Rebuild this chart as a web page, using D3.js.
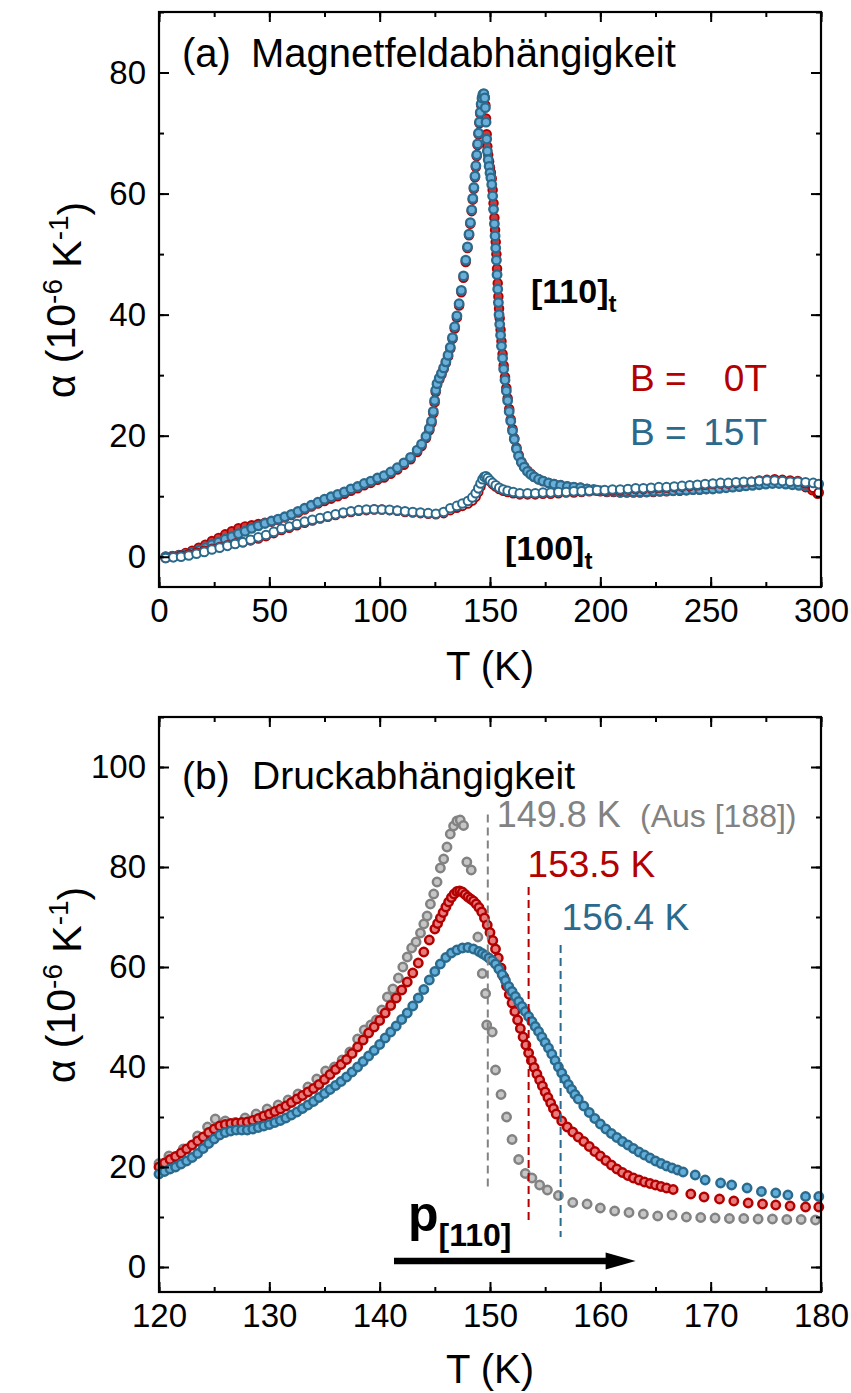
<!DOCTYPE html>
<html>
<head>
<meta charset="utf-8">
<script src="https://cdn.jsdelivr.net/npm/d3@7"></script>
<style>
  body { margin: 0; background: #fff; }
  svg { display: block; }
  text { font-family: "Liberation Sans", Arial, sans-serif; }
</style>
</head>
<body>
<svg id="chart" width="851" height="1393"></svg>
<script>
// ---------- Panel (a): thermal expansion vs. magnetic field, [T (K), alpha (1e-6/K)] ----------
const a110_15T = [[3,0.0],[6,0.1],[9,0.2],[12,0.4],[15,0.7],[18,1.1],[21,1.5],[24,2.0],[27,2.4],[30,2.9],[33,3.3],[36,3.8],[39,4.2],[42,4.7],[45,5.1],[48,5.5],[51,5.9],[54,6.2],[57,6.6],[60,7.0],[63,7.5],[66,8.0],[69,8.5],[72,9.0],[75,9.5],[78,9.9],[81,10.3],[84,10.7],[87,11.2],[90,11.6],[93,12.1],[96,12.5],[99,13.0],[102,13.4],[105,14.0],[108,14.7],[111,15.5],[114,16.4],[117,17.6],[119,18.6],[121,19.9],[122.5,21.2],[123.5,22.4],[124.3,24.0],[124.9,25.8],[125.4,27.5],[126,28.6],[127,29.5],[128,30.3],[129,31.2],[130,32.2],[131,33.3],[132,34.6],[133,36.2],[134,38.0],[135,39.8],[136,41.8],[137,44.0],[138,46.4],[139,49.0],[139.8,51.2],[140.5,53.3],[141.1,55.2],[141.7,57.3],[142.2,59.2],[142.7,61.0],[143.2,62.9],[143.6,64.6],[144,66.4],[144.4,68.2],[144.8,70.0],[145.2,71.8],[145.6,73.4],[146,74.8],[146.4,75.8],[146.8,76.4],[147.2,76.5],[147.6,75.8],[147.9,74.2],[148.2,71.8],[148.5,69.0],[148.8,67.0],[149.2,65.6],[149.6,64.5],[150,63.4],[150.4,62.6],[150.8,61.5],[151.2,59.6],[151.6,57.4],[152,55.0],[152.3,53.0],[152.6,51.0],[152.9,49.0],[153.2,46.6],[153.5,44.2],[153.8,42.0],[154.1,40.0],[154.4,38.4],[154.8,36.6],[155.2,34.8],[155.7,32.8],[156.2,31.0],[156.8,29.2],[157.4,27.4],[158,25.8],[158.7,24.0],[159.4,22.4],[160.2,20.8],[161,19.4],[162,17.8],[163,16.6],[164.2,15.6],[165.5,14.8],[167,14.1],[168.5,13.6],[170,13.2],[172,12.8],[174,12.5],[176.5,12.2],[179,12.0],[182,11.8],[185,11.6],[188,11.5],[191,11.4],[194,11.2],[197,11.1],[200,10.9],[203,10.8],[206,10.8],[209,10.7],[212,10.7],[215,10.7],[218,10.7],[221,10.7],[224,10.8],[227,10.8],[230,10.9],[233,10.9],[236,11.0],[239,11.0],[242,11.1],[245,11.1],[248,11.2],[251,11.2],[254,11.3],[257,11.4],[260,11.5],[263,11.6],[266,11.7],[269,11.8],[272,11.9],[275,12.0],[278,12.1],[281,12.1],[284,12.0],[287,11.9],[290,11.8],[293,11.7],[296,11.6],[298.5,11.5]];

const a110_0T = [[3,0.0],[6,0.1],[9,0.3],[12,0.6],[15,1.0],[18,1.5],[21,2.0],[24,2.6],[27,3.1],[30,3.7],[33,4.2],[36,4.7],[39,5.0],[42,5.2],[45,5.4],[48,5.6],[51,5.8],[54,6.1],[57,6.5],[60,6.9],[63,7.3],[66,7.8],[69,8.3],[72,8.8],[75,9.2],[78,9.6],[81,10.0],[84,10.4],[87,10.9],[90,11.3],[93,11.8],[96,12.2],[99,12.7],[102,13.1],[105,13.7],[108,14.4],[111,15.2],[114,16.1],[117,17.3],[119,18.3],[121,19.6],[122.5,20.9],[123.5,22.1],[124.3,23.7],[124.9,25.5],[125.4,27.2],[126,28.4],[127,29.3],[128,30.1],[129,31.0],[130,32.0],[131,33.1],[132,34.4],[133,36.0],[134,37.7],[135,39.5],[136,41.5],[137,43.7],[138,46.1],[139,48.7],[139.8,51.0],[140.5,53.1],[141.1,55.0],[141.7,57.1],[142.2,59.0],[142.7,60.8],[143.2,62.7],[143.6,64.4],[144,66.2],[144.4,68.0],[144.8,69.8],[145.2,71.6],[145.6,73.2],[146,74.6],[146.4,75.6],[146.8,76.2],[147.2,76.4],[147.6,75.9],[147.9,74.6],[148.2,72.4],[148.5,69.8],[148.8,67.8],[149.2,66.4],[149.6,65.3],[150,64.3],[150.4,63.5],[150.8,62.5],[151.2,60.6],[151.6,58.4],[152,56.0],[152.3,54.0],[152.6,52.0],[152.9,50.0],[153.2,47.6],[153.5,45.2],[153.8,43.0],[154.1,41.0],[154.4,39.4],[154.8,37.5],[155.2,35.6],[155.7,33.5],[156.2,31.6],[156.8,29.7],[157.4,27.9],[158,26.2],[158.7,24.4],[159.4,22.7],[160.2,21.1],[161,19.6],[162,18.0],[163,16.8],[164.2,15.7],[165.5,14.9],[167,14.2],[168.5,13.7],[170,13.2],[172,12.8],[174,12.5],[176.5,12.2],[179,12.0],[182,11.8],[185,11.6],[188,11.5],[191,11.4],[194,11.2],[197,11.0],[200,10.8],[203,10.7],[206,10.7],[209,10.6],[212,10.6],[215,10.6],[218,10.6],[221,10.7],[224,10.7],[227,10.8],[230,10.8],[233,10.9],[236,10.9],[239,11.0],[242,11.1],[245,11.1],[248,11.2],[251,11.3],[254,11.4],[257,11.5],[260,11.6],[263,11.7],[266,11.8],[269,12.0],[272,12.1],[275,12.3],[278,12.4],[281,12.4],[284,12.3],[287,12.1],[290,11.9],[293,11.5],[296,11.0],[298.5,10.4]];

const a100_15T = [[3,-0.2],[6.5,-0.1],[10,0.0],[13.5,0.2],[17,0.5],[20.5,0.8],[24,1.2],[27.5,1.5],[31,1.8],[34.5,2.1],[38,2.4],[41.5,2.8],[45,3.2],[48.5,3.6],[52,4.1],[55.5,4.6],[59,5.0],[62.5,5.4],[66,5.8],[69.5,6.1],[73,6.4],[76.5,6.7],[80,7.0],[83.5,7.3],[87,7.5],[90.5,7.7],[94,7.8],[97.5,7.85],[101,7.8],[104.5,7.75],[108,7.65],[111.5,7.5],[115,7.4],[118.5,7.3],[122,7.2],[125.5,7.1],[129,7.4],[132,8.0],[135,8.4],[137.5,8.8],[140,9.2],[142,9.8],[143.5,10.5],[144.7,11.3],[145.7,12.1],[146.6,12.8],[147.4,13.2],[148.2,13.3],[149,13.0],[150,12.6],[151.2,12.2],[152.6,11.8],[154.2,11.4],[156,11.1],[158,10.9],[160.5,10.7],[163.5,10.5],[167,10.5],[170.5,10.5],[174,10.6],[177.5,10.6],[181,10.7],[184.5,10.7],[188,10.8],[191.5,10.8],[195,10.9],[198.5,11.0],[202,11.0],[205.5,11.1],[209,11.1],[212.5,11.2],[216,11.3],[219.5,11.3],[223,11.4],[226.5,11.5],[230,11.5],[233.5,11.6],[237,11.7],[240.5,11.8],[244,11.9],[247.5,12.0],[251,12.1],[254.5,12.2],[258,12.2],[261.5,12.3],[265,12.4],[268.5,12.4],[272,12.5],[275.5,12.6],[279,12.6],[282.5,12.5],[286,12.4],[289.5,12.4],[293,12.3],[296.5,12.2],[299,12.0]];

const a100_0T = [[3,-0.2],[6.5,0.0],[10,0.2],[13.5,0.4],[17,0.7],[20.5,1.0],[24,1.3],[27.5,1.6],[31,1.9],[34.5,2.2],[38,2.4],[41.5,2.7],[45,3.0],[48.5,3.4],[52,3.9],[55.5,4.4],[59,4.8],[62.5,5.2],[66,5.6],[69.5,6.0],[73,6.3],[76.5,6.6],[80,6.9],[83.5,7.2],[87,7.4],[90.5,7.6],[94,7.7],[97.5,7.8],[101,7.8],[104.5,7.7],[108,7.6],[111.5,7.4],[115,7.3],[118.5,7.2],[122,7.1],[125.5,7.0],[129,7.2],[132,7.7],[135,8.1],[137.5,8.4],[140,8.8],[142,9.3],[143.5,9.9],[144.7,10.7],[145.7,11.6],[146.6,12.4],[147.4,12.9],[148.2,13.1],[149,12.9],[150,12.5],[151.2,12.0],[152.6,11.6],[154.2,11.2],[156,10.9],[158,10.7],[160.5,10.5],[163.5,10.3],[167,10.3],[170.5,10.3],[174,10.4],[177.5,10.4],[181,10.5],[184.5,10.6],[188,10.6],[191.5,10.7],[195,10.8],[198.5,10.9],[202,10.9],[205.5,11.0],[209,11.0],[212.5,11.1],[216,11.2],[219.5,11.2],[223,11.3],[226.5,11.4],[230,11.4],[233.5,11.5],[237,11.6],[240.5,11.7],[244,11.8],[247.5,11.9],[251,12.0],[254.5,12.1],[258,12.1],[261.5,12.2],[265,12.3],[268.5,12.4],[272,12.6],[275.5,12.7],[279,12.8],[282.5,12.7],[286,12.6],[289.5,12.5],[293,12.1],[296.5,11.4],[299,10.6]];

// ---------- Panel (b): thermal expansion vs. uniaxial pressure ----------
const pGray = [[120,20.7],[120.9,22.2],[122.2,23.6],[123.5,26.2],[124.4,28.0],[125.1,29.6],[126.0,29.2],[126.9,28.9],[127.8,29.8],[128.8,30.6],[129.8,31.6],[130.8,32.4],[131.7,33.4],[132.6,34.6],[133.5,36.0],[134.3,37.6],[135.1,39.2],[135.9,40.0],[136.6,41.4],[137.3,43.0],[138.0,45.6],[138.6,47.4],[139.2,48.4],[139.7,49.4],[140.2,51.4],[140.7,54.0],[141.2,55.6],[141.7,57.8],[142.1,60.0],[142.5,62.0],[142.9,63.8],[143.3,65.0],[143.7,66.8],[144.0,68.6],[144.3,70.2],[144.6,72.6],[144.9,74.6],[145.2,77.0],[145.5,79.8],[145.8,81.6],[146.1,84.0],[146.4,86.6],[146.7,88.2],[147.0,89.2],[147.3,89.4],[147.6,88.3],[147.9,81.0],[148.3,79.4],[148.9,66.0],[149.3,58.7],[149.6,54.7],[149.7,48.4],[150.2,47.0],[150.5,39.4],[151.0,34.5],[151.5,30.0],[152.0,25.5],[152.6,21.5],[153.2,18.7],[153.8,17.8],[154.5,16.4],[155.2,15.4],[156.2,14.3],[157.5,12.9],[158.8,12.6],[160.0,11.8],[161.3,11.2],[162.6,10.9],[163.9,10.6],[165.2,10.2],[166.5,10.4],[167.8,10.0],[169.1,9.9],[170.4,9.8],[171.7,9.7],[173.0,9.7],[174.3,9.6],[175.6,9.6],[176.9,9.5],[178.2,9.5],[179.5,9.4]];

const pRed = [[120,20.0],[120.5,20.8],[121,21.5],[121.5,22.1],[122,22.8],[122.5,23.6],[123,24.4],[123.5,25.2],[124,26.0],[124.5,26.9],[125,27.6],[125.5,28.2],[126,28.5],[126.5,28.7],[127,28.8],[127.5,28.9],[128,29.0],[128.5,29.3],[129,29.7],[129.5,30.2],[130,30.6],[130.5,31.1],[131,31.6],[131.5,32.2],[132,32.9],[132.5,33.6],[133,34.3],[133.5,35.0],[134,35.7],[134.5,36.5],[135,37.5],[135.5,38.5],[136,39.5],[136.5,40.5],[137,41.5],[137.5,42.7],[138,44.0],[138.5,45.4],[139,46.8],[139.5,48.0],[140,49.3],[140.5,50.8],[141,52.3],[141.5,53.8],[142,55.4],[142.5,57.0],[143,58.8],[143.5,60.8],[144,63.0],[144.5,65.4],[145,67.6],[145.25,68.7],[145.5,69.8],[145.75,70.9],[146,72.0],[146.25,73.0],[146.5,73.9],[146.75,74.6],[147,75.1],[147.25,75.2],[147.5,75.0],[147.75,74.5],[148,74.0],[148.25,73.6],[148.5,73.2],[148.75,72.6],[149,71.9],[149.25,71.0],[149.5,69.8],[149.75,68.4],[150,66.9],[150.25,65.3],[150.5,63.6],[150.75,61.8],[151,59.8],[151.25,58.0],[151.5,56.2],[151.75,54.5],[152,52.8],[152.25,51.1],[152.5,49.4],[152.75,47.7],[153,46.0],[153.25,44.4],[153.5,42.8],[153.75,41.3],[154,39.9],[154.25,38.6],[154.5,37.4],[154.75,36.2],[155,35.0],[155.25,33.9],[155.5,32.8],[155.75,31.7],[156,30.6],[156.5,29.2],[157,28.0],[157.5,27.0],[158,26.0],[158.5,25.1],[159,24.1],[159.5,23.1],[160,22.2],[160.5,21.3],[161,20.4],[161.5,19.6],[162,18.9],[162.5,18.3],[163,17.8],[163.5,17.4],[164,17.0],[164.5,16.7],[165,16.4],[165.5,16.1],[166,15.8],[166.6,15.5],[168.2,14.6],[169.4,14.0],[170.8,13.6],[172.1,13.2],[173.4,12.8],[174.7,12.6],[175.9,12.4],[177.2,12.2],[178.6,12.0],[179.8,12.0]];

const pBlue = [[120,18.6],[120.5,19.1],[121,19.6],[121.5,20.0],[122,20.6],[122.5,21.2],[123,21.9],[123.5,22.7],[124,23.7],[124.5,24.7],[125,25.6],[125.5,26.4],[126,26.9],[126.5,27.2],[127,27.4],[127.5,27.4],[128,27.4],[128.5,27.6],[129,27.9],[129.5,28.2],[130,28.5],[130.5,28.9],[131,29.3],[131.5,29.8],[132,30.4],[132.5,31.0],[133,31.7],[133.5,32.4],[134,33.1],[134.5,33.9],[135,34.7],[135.5,35.5],[136,36.3],[136.5,37.1],[137,38.0],[137.5,39.0],[138,40.0],[138.5,41.1],[139,42.2],[139.5,43.3],[140,44.5],[140.5,45.8],[141,47.0],[141.5,48.2],[142,49.5],[142.5,50.8],[143,52.2],[143.5,53.8],[144,55.5],[144.5,57.4],[145,59.1],[145.5,60.6],[146,61.9],[146.5,62.8],[147,63.4],[147.5,63.8],[148,63.9],[148.5,63.6],[149,63.1],[149.3,62.7],[149.6,62.3],[149.9,61.8],[150.2,61.3],[150.5,60.6],[150.8,59.6],[151.1,58.5],[151.4,57.3],[151.7,56.1],[152,55.1],[152.3,54.1],[152.6,53.1],[152.9,52.1],[153.2,51.1],[153.5,50.1],[153.8,49.1],[154.1,48.1],[154.4,47.1],[154.7,46.0],[155,44.9],[155.3,43.8],[155.6,42.6],[155.9,41.3],[156.2,40.0],[156.5,38.8],[156.8,37.6],[157.1,36.5],[157.4,35.5],[157.7,34.5],[158,33.6],[158.5,32.2],[159,30.9],[159.5,29.7],[160,28.6],[160.5,27.6],[161,26.7],[161.5,25.9],[162,25.1],[162.5,24.4],[163,23.7],[163.5,23.0],[164,22.4],[164.5,21.8],[165,21.2],[165.5,20.7],[166,20.2],[166.5,19.8],[167,19.4],[167.5,19.0],[168.6,18.4],[169.5,17.4],[170.9,16.8],[171.9,16.4],[173.3,15.8],[174.6,15.1],[175.9,14.8],[177,14.4],[178.6,14.1],[179.8,14.1]];

// transition temperatures (K) marked by dashed lines: literature, red sample, blue sample
const tcValues = [149.8, 153.5, 156.4];

// tick values
const xTicksA = [0, 50, 100, 150, 200, 250, 300];
const yTicksA = [0, 20, 40, 60, 80];
const xTicksB = [120, 130, 140, 150, 160, 170, 180];
const yTicksB = [0, 20, 40, 60, 80, 100];

// ---------- styles ----------
const RED = "#b30000", BLUE = "#2b6a8c", GRAY = "#828282";
const FONT = '"Liberation Sans", Arial, sans-serif';
const svg = d3.select("#chart");
svg.append("rect").attr("width", 851).attr("height", 1393).attr("fill", "#fff");

function drawFrame(x, y, xMajor, xMinorStep, yMajor, yMinorStep) {
  const [xl, xr] = x.range();
  const [yb, yt] = y.range();
  const g = svg.append("g");
  const xd = x.domain(), yd = y.domain();
  const xMinor = d3.range(Math.ceil(xd[0] / xMinorStep) * xMinorStep, xd[1] + 1e-9, xMinorStep);
  const yMinor = d3.range(Math.ceil(yd[0] / yMinorStep) * yMinorStep, yd[1] + 1e-9, yMinorStep);

  const styleAxis = sel => {
    sel.select(".domain").remove();
    sel.selectAll(".tick line").attr("stroke", "#000").attr("stroke-width", 2);
    sel.attr("font-family", FONT).attr("font-size", 33);
    sel.selectAll(".tick text").attr("fill", "#000");
  };

  // minor ticks on all four sides (inward)
  g.append("g").attr("transform", `translate(0,${yb})`).call(d3.axisBottom(x).tickValues(xMinor).tickSize(-5).tickFormat("")).call(styleAxis);
  g.append("g").attr("transform", `translate(0,${yt})`).call(d3.axisTop(x).tickValues(xMinor).tickSize(-5).tickFormat("")).call(styleAxis);
  g.append("g").attr("transform", `translate(${xl},0)`).call(d3.axisLeft(y).tickValues(yMinor).tickSize(-5).tickFormat("")).call(styleAxis);
  g.append("g").attr("transform", `translate(${xr},0)`).call(d3.axisRight(y).tickValues(yMinor).tickSize(-5).tickFormat("")).call(styleAxis);

  // major ticks with labels on bottom and left
  g.append("g").attr("transform", `translate(0,${yb})`)
    .call(d3.axisBottom(x).tickValues(xMajor).tickSize(-10).tickPadding(12).tickFormat(d3.format("d"))).call(styleAxis);
  g.append("g").attr("transform", `translate(0,${yt})`)
    .call(d3.axisTop(x).tickValues(xMajor).tickSize(-10).tickFormat("")).call(styleAxis);
  g.append("g").attr("transform", `translate(${xl},0)`)
    .call(d3.axisLeft(y).tickValues(yMajor).tickSize(-10).tickPadding(13).tickFormat(d3.format("d"))).call(styleAxis);
  g.append("g").attr("transform", `translate(${xr},0)`)
    .call(d3.axisRight(y).tickValues(yMajor).tickSize(-10).tickFormat("")).call(styleAxis);

  g.append("rect").attr("x", xl).attr("y", yt).attr("width", xr - xl).attr("height", yb - yt)
    .attr("fill", "none").attr("stroke", "#000").attr("stroke-width", 2.2);
}

function drawPoints(data, x, y, r, fill, stroke, sw) {
  svg.append("g").selectAll("circle").data(data).join("circle")
    .attr("cx", d => x(d[0])).attr("cy", d => y(d[1]))
    .attr("r", r).attr("fill", fill).attr("stroke", stroke).attr("stroke-width", sw);
}

function yTitle(cx, cy) {
  const t = svg.append("text")
    .attr("transform", `translate(${cx},${cy}) rotate(-90)`)
    .attr("text-anchor", "middle").attr("font-size", 41).attr("font-family", FONT);
  t.append("tspan").text("\u03b1 (10");
  t.append("tspan").attr("dy", "-0.45em").attr("font-size", 28).text("-6");
  t.append("tspan").attr("dy", "0.45em").text(" K");
  t.append("tspan").attr("dy", "-0.45em").attr("font-size", 28).text("-1");
  t.append("tspan").attr("dy", "0.45em").text(")");
}

function label(x, y, txt, size, color, opts = {}) {
  return svg.append("text").attr("x", x).attr("y", y).attr("font-size", size)
    .attr("font-family", FONT).attr("fill", color)
    .attr("font-weight", opts.bold ? "bold" : null)
    .attr("text-anchor", opts.anchor || "start").text(txt);
}

function subLabel(x, y, main, sub, size, subSize, subDy) {
  const t = svg.append("text").attr("x", x).attr("y", y).attr("font-size", size)
    .attr("font-family", FONT).attr("font-weight", "bold").attr("fill", "#000");
  t.append("tspan").text(main);
  t.append("tspan").attr("dy", subDy).attr("font-size", subSize).text(sub);
}

// ================= Panel (a) =================
const xA = d3.scaleLinear().domain([0, 300]).range([159, 821]);
const yA = d3.scaleLinear().domain([-5, 90]).range([587, 12]);

drawPoints(a110_0T, xA, yA, 4.3, "#d23a3a", RED, 1.9);
drawPoints(a110_15T, xA, yA, 4.3, "#6aafd9", BLUE, 2.3);
drawPoints(a100_0T, xA, yA, 4.3, "#fff", RED, 1.9);
drawPoints(a100_15T, xA, yA, 4.3, "#fff", BLUE, 2.0);

drawFrame(xA, yA, xTicksA, 25, yTicksA, 10);

label(182, 67, "(a)", 40, "#000");
label(251, 67, "Magnetfeldabh\u00e4ngigkeit", 40, "#000");
subLabel(531, 303, "[110]", "t", 34, 24, 9);
subLabel(505, 560, "[100]", "t", 34, 24, 9);
label(630, 391, "B =", 37, RED);
label(767, 391, "0T", 37, RED, { anchor: "end" });
label(630, 445, "B =", 37, BLUE);
label(767, 445, "15T", 37, BLUE, { anchor: "end" });
label(490, 680, "T (K)", 40, "#000", { anchor: "middle" });
yTitle(75, 300);

// ================= Panel (b) =================
const xB = d3.scaleLinear().domain([120, 180]).range([159, 821]);
const yB = d3.scaleLinear().domain([-5, 110]).range([1292, 717]);

drawPoints(pGray, xB, yB, 4.2, "#c6c6c6", GRAY, 2.5);
drawPoints(pRed, xB, yB, 4.2, "#e87c7c", RED, 2.5);
drawPoints(pBlue, xB, yB, 4.2, "#62aedb", BLUE, 2.5);

// dashed markers of the transition temperatures
const tcColors = [GRAY, RED, BLUE];
const tcSpan = [[90.5, 15.4], [76, 9], [64.4, 6]];
tcValues.forEach((tc, i) => {
  svg.append("line").attr("x1", xB(tc)).attr("x2", xB(tc))
    .attr("y1", yB(tcSpan[i][0])).attr("y2", yB(tcSpan[i][1]))
    .attr("stroke", tcColors[i]).attr("stroke-width", 2).attr("stroke-dasharray", "8,5");
});
label(xB(tcValues[0]) + 9, 827, `${tcValues[0].toFixed(1)} K`, 36, GRAY);
label(640, 827, "(Aus [188])", 32, GRAY);
label(xB(tcValues[1]) - 1, 877, `${tcValues[1].toFixed(1)} K`, 37, RED);
label(xB(tcValues[2]) + 1, 930, `${tcValues[2].toFixed(1)} K`, 37, BLUE);

drawFrame(xB, yB, xTicksB, 5, yTicksB, 10);

// pressure direction arrow
const arrowY = yB(1.2), ax0 = xB(141.3), ax1 = xB(163.2);
svg.append("path")
  .attr("d", `M${ax0},${arrowY - 3.2} L${ax1 - 30},${arrowY - 3.2} L${ax1 - 30},${arrowY - 8.5} L${ax1},${arrowY} L${ax1 - 30},${arrowY + 8.5} L${ax1 - 30},${arrowY + 3.2} L${ax0},${arrowY + 3.2} Z`)
  .attr("fill", "#000");
subLabel(408, 1231, "p", "[110]", 50, 32, 15);

label(182, 789, "(b)", 39, "#000");
label(252, 789, "Druckabh\u00e4ngigkeit", 39, "#000");
label(490, 1383, "T (K)", 40, "#000", { anchor: "middle" });
yTitle(75, 985);
</script>
</body>
</html>
